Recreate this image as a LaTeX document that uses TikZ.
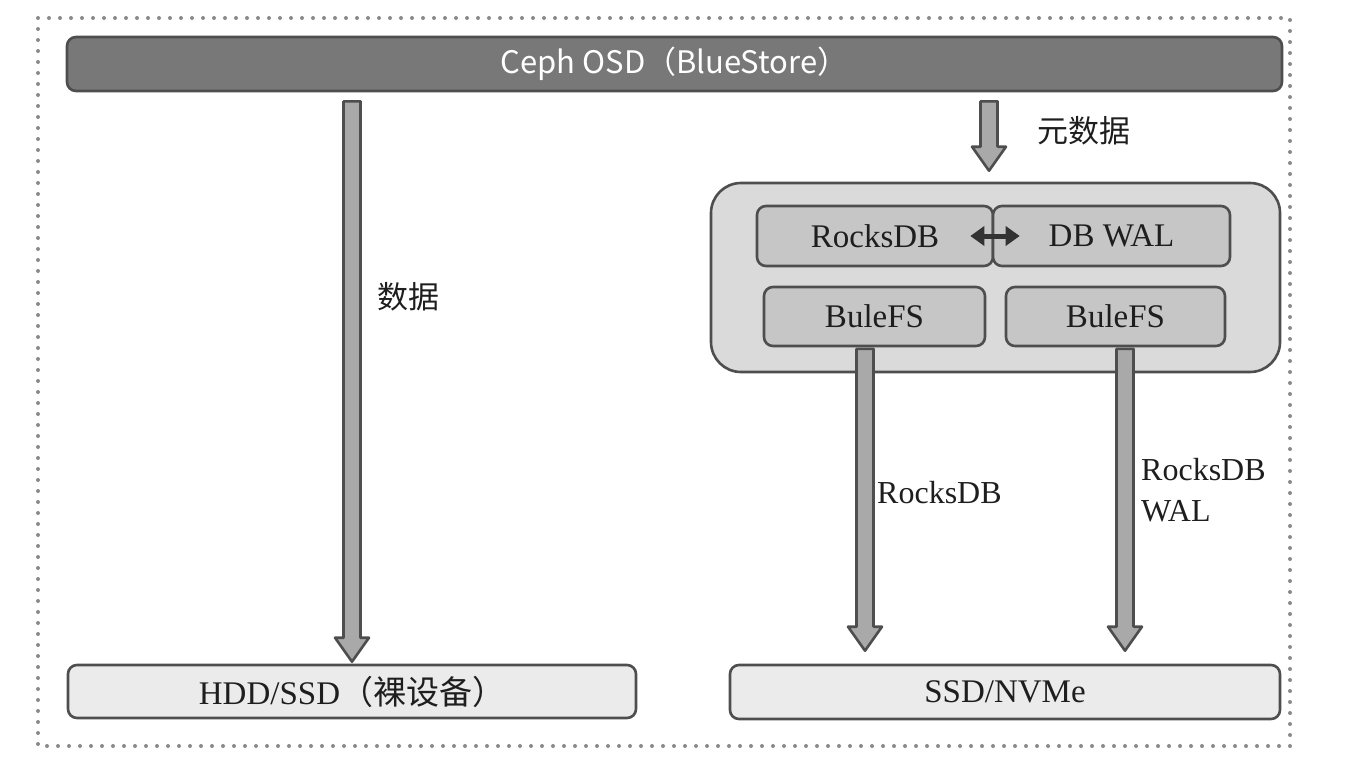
\documentclass[tikz,border=0pt]{standalone}
\usepackage{fontspec}
\setmainfont{Liberation Serif}
\newfontfamily\cjk{Noto Sans CJK SC}
\usetikzlibrary{calc,arrows.meta}
\definecolor{bardark}{HTML}{787878}
\definecolor{edgedark}{HTML}{4E4E4E}
\definecolor{arrowfill}{HTML}{A9A9A9}
\definecolor{outerfill}{HTML}{DADADA}
\definecolor{innerfill}{HTML}{C6C6C6}
\definecolor{lightfill}{HTML}{EBEBEB}
\definecolor{txt}{HTML}{1E1E1E}
\definecolor{dotgray}{HTML}{8A8A8A}
\tikzset{
  box/.style={draw=edgedark, line width=2.6pt, rounded corners=9pt, inner sep=0pt, text=txt,
    font=\fontsize{33}{38}\selectfont},
  topbar/.style={box, fill=bardark, text=white, font=\cjk\fontsize{31}{36}\selectfont},
  lowbox/.style={box, fill=lightfill},
  innerbox/.style={box, fill=innerfill},
  outerbox/.style={draw=edgedark, line width=2.6pt, rounded corners=30pt, fill=outerfill, inner sep=0pt},
  barrow/.style={draw=edgedark, fill=arrowfill, line width=2.6pt, line join=round},
  cjklabel/.style={text=txt, font=\cjk\fontsize{31}{36}\selectfont, inner sep=0pt},
  serlabel/.style={text=txt, font=\fontsize{32}{41}\selectfont, inner sep=0pt, align=left},
  dblarrow/.style={draw=black!80, line width=5pt, {Triangle[width=19pt,length=14pt]}-{Triangle[width=19pt,length=14pt]}}
}
\newcommand{\blockarrowdown}[2]{%
  \path #1 coordinate (bas) #2 coordinate (bae);
  \draw[barrow] ($(bas)+(-8.5,0)$) -- ($(bas|-bae)+(-8.5,-24)$) -- ($(bas|-bae)+(-17,-24)$)
    -- (bas|-bae) -- ($(bas|-bae)+(17,-24)$) -- ($(bas|-bae)+(8.5,-24)$) -- ($(bas)+(8.5,0)$) -- cycle;}
\begin{document}
\begin{tikzpicture}[x=1pt,y=-1pt]
\useasboundingbox (0,0) rectangle (1354,774);
\draw[dotgray, line width=4pt, line cap=round, dash pattern=on 0pt off 11pt] (38,18) rectangle (1290,746);

\node[topbar, minimum width=1215pt, minimum height=54pt] (ceph) at (674.5,64) {Ceph OSD（BlueStore）};
\node[lowbox, minimum width=568pt, minimum height=53pt] (hdd) at (352,691.5) {HDD/SSD{\cjk（裸设备）}};
\node[lowbox, minimum width=550pt, minimum height=54pt] (ssd) at (1005,692) {SSD/NVMe};

\node[outerbox, minimum width=569pt, minimum height=189pt] (outer) at (995.5,277.5) {};
\node[innerbox, minimum width=236pt, minimum height=60pt] (rocks) at (875,236) {RocksDB};
\node[innerbox, minimum width=237pt, minimum height=60pt] (dbwal) at (1111.5,236) {DB WAL};
\node[innerbox, minimum width=221pt, minimum height=59pt] (bule1) at (874.5,316.5) {BuleFS};
\node[innerbox, minimum width=219pt, minimum height=59pt] (bule2) at (1115.5,316.5) {BuleFS};

\draw[dblarrow] ($(rocks.east)+(-24,0)$) -- ($(dbwal.west)+(28,0)$);

\coordinate (dataS) at ($(ceph.south -| 352,0)+(0,9)$);
\coordinate (dataE) at ($(hdd.north -| 352,0)+(0,-2)$);
\blockarrowdown{(dataS)}{(dataE)}

\coordinate (metaS) at ($(ceph.south -| 989,0)+(0,9)$);
\coordinate (metaE) at ($(outer.north -| 989,0)+(0,-11)$);
\blockarrowdown{(metaS)}{(metaE)}

\coordinate (rdbS) at ($(bule1.south -| 865,0)+(0,1.5)$);
\coordinate (rdbE) at ($(ssd.north -| 865,0)+(0,-13)$);
\blockarrowdown{(rdbS)}{(rdbE)}

\coordinate (walS) at ($(bule2.south -| 1125,0)+(0,1.5)$);
\coordinate (walE) at ($(ssd.north -| 1125,0)+(0,-13)$);
\blockarrowdown{(walS)}{(walE)}

\node[cjklabel] (ldata) at (408,297) {数据};
\node[cjklabel] (lmeta) at (1084,131) {元数据};
\node[serlabel, anchor=west] (lrdb) at (877,493) {RocksDB};
\node[serlabel, anchor=west] (lwal) at (1141,490) {RocksDB\\WAL};
\end{tikzpicture}
\end{document}
